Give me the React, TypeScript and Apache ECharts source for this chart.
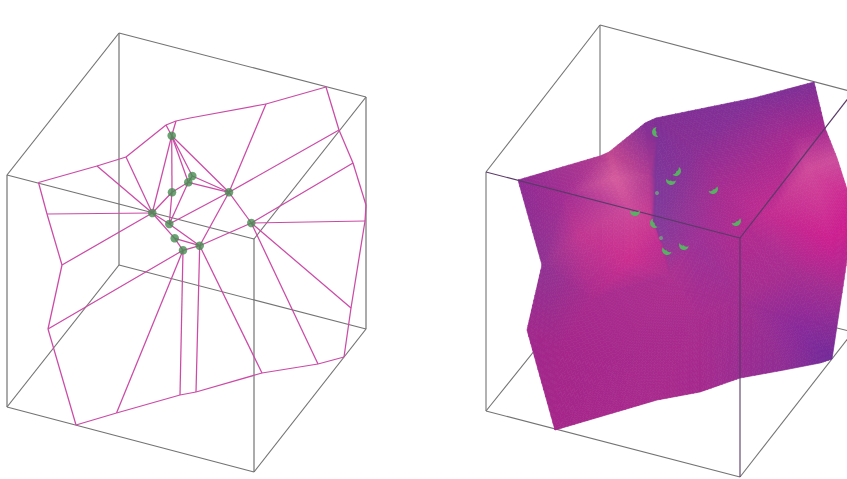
import React, { useEffect, useRef } from "react";
import * as echarts from "echarts";

// ---- left panel: wireframe box corners (top-back, top-left, top-right, top-front, then the bottom four)
const leftBox = [[119, 33], [7, 175], [366, 97], [254, 239], [119, 265], [7, 407], [366, 329], [254, 472]];
// ---- right panel: wireframe box corners in the same order
const rightBox = [[600, 25], [486, 172], [853, 92], [740, 238], [600, 269], [486, 411], [853, 332], [740, 477]];

const boxEdges = [[0, 1], [0, 2], [1, 3], [2, 3], [0, 4], [1, 5], [2, 6], [3, 7], [4, 5], [4, 6], [5, 7], [6, 7]];
const rightBackEdges = [[0, 1], [0, 2], [0, 4], [1, 5], [2, 6], [4, 5], [4, 6], [5, 7], [6, 7]];
const rightFrontEdges = [[1, 3], [2, 3], [3, 7]];

// ---- left panel: mesh rim nodes
const meshRim = [
  [38.5, 182.5], [97, 166], [126, 157], [166, 125], [176, 121], [190, 118], [266, 104], [326, 87], [339, 130],
  [353, 163], [366, 205], [365, 221], [351, 308], [344, 357], [318, 364], [262, 373], [196, 392],
  [180, 395], [116.5, 413], [76, 425], [48, 329], [62, 265], [47, 214],
];
// ---- left panel: data sites (the green points)
const meshSites = [
  [171.7, 135.7], [192.3, 176], [188.3, 182.3], [172, 192.3], [229, 192.3], [152.3, 213],
  [169.3, 224], [251.3, 223], [174.7, 238.3], [199.7, 245.7], [183, 250.3],
];
// inner edges: [site, rim] links
const siteRimLinks = [
  [0, 3], [0, 4], [5, 2], [5, 1], [5, 22], [5, 21], [10, 20], [10, 18], [10, 17], [9, 16], [9, 15],
  [7, 14], [7, 12], [7, 11], [7, 9], [4, 8], [4, 6],
];
// inner edges: [site, site] links
const siteSiteLinks = [
  [0, 3], [0, 5], [0, 1], [0, 2], [0, 4], [1, 4], [2, 4], [1, 2], [4, 7], [4, 9], [4, 6], [7, 9], [3, 5], [3, 2],
  [3, 6], [2, 6], [5, 6], [5, 8], [6, 9], [8, 9], [8, 10], [9, 10],
];

// ---- right panel: shaded surface vertices
const surfaceVerts = [
  [518, 180], [600, 156], [609, 152], [645, 123], [656, 118], [754, 98], [814, 82], [825, 128], [837, 158],
  [852, 205], [852, 225], [842, 293], [832, 359], [820, 363], [784, 370], [740, 378], [700, 392], [657, 400],
  [555, 430], [527, 330], [542, 265], // 0-20 rim
  [565, 195], [615, 178], [630, 207], [580, 235], // 21-24
  [650, 175], [652, 135], [651, 222], [660, 240], // 25-28 crease, left side
  [658, 135], [656, 180], [655, 222], [662, 243], // 29-32 crease, right side
  [695, 150], [725, 190], [745, 225], [695, 240], [670, 275], [630, 260], [590, 300], [620, 360],
  [700, 320], [740, 300], [770, 215], [808, 168], [795, 135], [790, 270], [800, 330], [830, 240], [560, 350], // 33-49
];
const surfaceTones = [
  "#8f2a93", "#b03a8f", "#c04690", "#822f95", "#802e94", "#802f96", "#7d2f95", "#a52990", "#cb4d9c",
  "#cc2090", "#cc1f8e", "#a02d92", "#722a98", "#772b98", "#8f2d94", "#9a2d92", "#a52a8e", "#a82a8d",
  "#a5258a", "#a0288c", "#8f3292",
  "#a32d92", "#d65c9d", "#cb4a9a", "#c03691",
  "#ae3a92", "#8a3095", "#c93a92", "#c02d90",
  "#7e3096", "#7e3699", "#803a9a", "#8c3a98",
  "#8a2e94", "#a92b90", "#b32a8f", "#9c3096", "#ac2f8f", "#cb2e8f", "#a72a8d", "#a6288c",
  "#a82b8e", "#a32d90", "#c22b90", "#cf4a9a", "#a52a90", "#a82d90", "#87299a", "#cc2090", "#a5268a",
];
const surfaceTriangles = [
  [0, 1, 21], [1, 22, 21], [1, 2, 22], [2, 25, 22], [2, 3, 25], [3, 26, 25], [3, 4, 26], [4, 29, 26],
  [22, 25, 23], [25, 27, 23], [21, 22, 23], [21, 23, 24], [23, 27, 38], [23, 38, 24], [27, 28, 38],
  [21, 24, 20], [0, 21, 20], [24, 39, 20], [24, 38, 39], [20, 39, 49], [20, 49, 19], [19, 49, 18],
  [49, 40, 18], [49, 39, 40], [40, 17, 18], [38, 28, 37], [38, 37, 39], [39, 37, 40], [37, 41, 40],
  [40, 41, 17], [41, 16, 17], [41, 15, 16], [41, 42, 15],
  [4, 29, 33], [4, 33, 5], [29, 30, 33], [30, 31, 33], [33, 31, 34], [31, 36, 34], [31, 32, 36], [32, 37, 36],
  [28, 32, 37], [36, 37, 41], [36, 41, 42], [36, 42, 35], [36, 35, 34],
  [33, 34, 45], [33, 45, 5], [5, 45, 6], [45, 7, 6], [34, 35, 43], [34, 43, 45], [45, 43, 44], [45, 44, 7],
  [7, 44, 8], [44, 9, 8], [44, 43, 48], [44, 48, 9], [9, 48, 10], [35, 46, 43], [35, 42, 46], [43, 46, 48],
  [48, 11, 10], [48, 46, 11], [46, 47, 11], [47, 12, 11], [47, 13, 12], [47, 14, 13], [46, 42, 47],
  [42, 14, 47], [42, 15, 14],
  [26, 29, 25], [29, 30, 25], [25, 30, 27], [30, 31, 27], [27, 31, 28], [31, 32, 28],
];

// ---- right panel: the sites showing through the surface, with the way each one bulges (degrees)
const surfaceSpots = [
  [657, 132], [676, 171], [671, 180], [713, 189], [635, 211], [655, 223], [736, 221], [684, 245], [667, 250],
];
const surfaceSpotTurns = [170, 40, 100, 60, 90, 150, 60, 110, 120];
const faintSpots = [[657, 193], [661, 238]];

const MESH = "#cb4aa6";
const BOX = "#737373";
const SITE = "#468c50";
const SPOT = "#58b062";

function hexToRgb(h: string) {
  return [parseInt(h.slice(1, 3), 16), parseInt(h.slice(3, 5), 16), parseInt(h.slice(5, 7), 16)];
}

function segments(points: number[][], edges: number[][]) {
  return edges.map(([a, b]) => [points[a][0], points[a][1], points[b][0], points[b][1]]);
}

function segmentSeries(data: number[][], color: string, width: number, z: number) {
  return {
    type: "custom",
    silent: true,
    z,
    data,
    renderItem: (_p: any, api: any) => {
      const a = api.coord([api.value(0), api.value(1)]);
      const b = api.coord([api.value(2), api.value(3)]);
      return {
        type: "line",
        shape: { x1: a[0], y1: a[1], x2: b[0], y2: b[1] },
        style: { stroke: color, lineWidth: width, fill: "none" },
      };
    },
  };
}

function surfaceSeries(z: number) {
  const rgb = surfaceTones.map(hexToRgb);
  return {
    type: "custom",
    silent: true,
    z,
    data: surfaceTriangles,
    renderItem: (_p: any, api: any) => {
      const ids = [api.value(0), api.value(1), api.value(2)];
      const pts = ids.map((i: number) => api.coord(surfaceVerts[i]));
      const cols = ids.map((i: number) => rgb[i]);
      const longest = Math.max(
        Math.hypot(pts[0][0] - pts[1][0], pts[0][1] - pts[1][1]),
        Math.hypot(pts[1][0] - pts[2][0], pts[1][1] - pts[2][1]),
        Math.hypot(pts[2][0] - pts[0][0], pts[2][1] - pts[0][1])
      );
      const n = Math.max(1, Math.ceil(longest / 7));
      const at = (i: number, j: number) => {
        const u = i / n, v = j / n, w = 1 - u - v;
        return {
          p: [u * pts[0][0] + v * pts[1][0] + w * pts[2][0], u * pts[0][1] + v * pts[1][1] + w * pts[2][1]],
          c: [0, 1, 2].map((k) => u * cols[0][k] + v * cols[1][k] + w * cols[2][k]),
        };
      };
      const children: any[] = [];
      const push = (a: any, b: any, c: any) => {
        const m = [0, 1, 2].map((k) => Math.round((a.c[k] + b.c[k] + c.c[k]) / 3));
        const col = `rgb(${m[0]},${m[1]},${m[2]})`;
        children.push({
          type: "polygon",
          shape: { points: [a.p, b.p, c.p] },
          style: { fill: col, stroke: col, lineWidth: 0.7 },
        });
      };
      for (let i = 0; i < n; i++) {
        for (let j = 0; j < n - i; j++) {
          push(at(i, j), at(i + 1, j), at(i, j + 1));
          if (i + j < n - 1) push(at(i + 1, j), at(i + 1, j + 1), at(i, j + 1));
        }
      }
      return { type: "group", children };
    },
  };
}

function spotSeries(z: number) {
  return {
    type: "custom",
    silent: true,
    z,
    data: surfaceSpots.map((s, i) => [s[0], s[1], surfaceSpotTurns[i]]),
    renderItem: (_p: any, api: any) => {
      const c = api.coord([api.value(0), api.value(1)]);
      const a = (api.value(2) * Math.PI) / 180;
      const r = 5;
      const outer: number[][] = [];
      const inner: number[][] = [];
      for (let k = 0; k <= 10; k++) {
        const t = -1 + k / 5;
        const th = a + (t * 95 * Math.PI) / 180;
        outer.push([c[0] + r * Math.cos(th), c[1] + r * Math.sin(th)]);
        const ir = r * (1 - 0.95 * (1 - t * t));
        inner.unshift([c[0] + ir * Math.cos(th), c[1] + ir * Math.sin(th)]);
      }
      return {
        type: "polygon",
        shape: { points: outer.concat(inner) },
        style: { fill: SPOT },
      };
    },
  };
}

const rimChain = meshRim.map((_, i) => [i, (i + 1) % meshRim.length]);
const leftMesh = [
  ...segments(meshRim, rimChain),
  ...siteRimLinks.map(([s, r]) => [meshSites[s][0], meshSites[s][1], meshRim[r][0], meshRim[r][1]]),
  ...segments(meshSites, siteSiteLinks),
];

export default function App() {
  const ref = useRef<HTMLDivElement>(null);
  useEffect(() => {
    if (!ref.current) return;
    const chart = echarts.init(ref.current, undefined, { renderer: "svg" });
    chart.setOption({
      animation: false,
      backgroundColor: "#ffffff",
      grid: { left: 0, right: 0, top: 0, bottom: 0 },
      xAxis: { type: "value", min: 0, max: 847, show: false },
      yAxis: { type: "value", min: 0, max: 479, inverse: true, show: false },
      series: [
        segmentSeries(segments(leftBox, boxEdges), BOX, 1.2, 1),
        segmentSeries(leftMesh, MESH, 1.25, 2),
        {
          type: "scatter",
          silent: true,
          z: 3,
          symbolSize: 8.5,
          itemStyle: { color: SITE },
          data: meshSites,
        },
        segmentSeries(segments(rightBox, rightBackEdges), BOX, 1.1, 1),
        surfaceSeries(2),
        segmentSeries(segments(rightBox, rightFrontEdges), "#5a3a68", 1.1, 3),
        spotSeries(4),
        {
          type: "scatter",
          silent: true,
          z: 4,
          symbolSize: 4,
          itemStyle: { color: "#6fa07f", opacity: 0.85 },
          data: faintSpots,
        },
      ],
    });
    return () => chart.dispose();
  }, []);
  return (
    <div
      ref={ref}
      style={{ position: "fixed", left: 0, top: 0, width: 847, height: 479, filter: "blur(0.45px)" }}
    />
  );
}
